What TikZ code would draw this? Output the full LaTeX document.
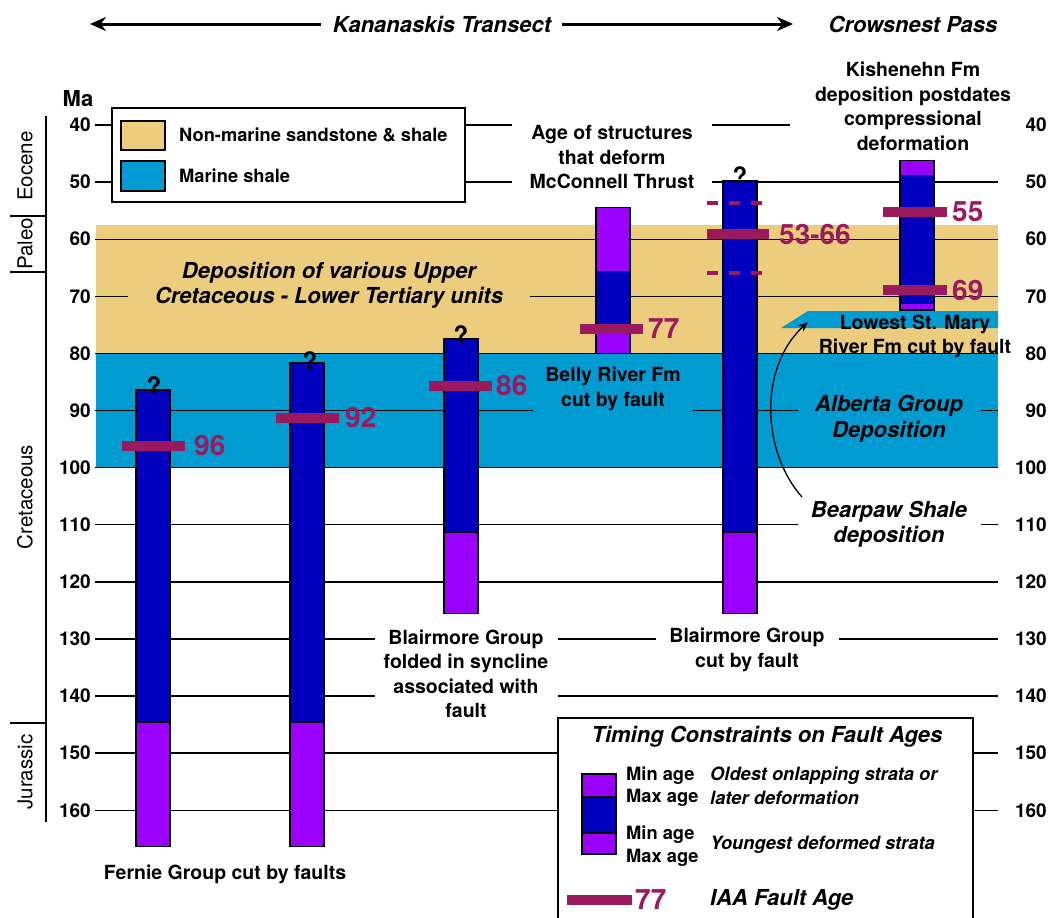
\documentclass[tikz,border=0pt]{standalone}
\usepackage{fontspec}
\setmainfont{TeX Gyre Heros}
\usetikzlibrary{arrows.meta}

\definecolor{sand}{RGB}{236,205,125}
\definecolor{marine}{RGB}{0,155,208}
\definecolor{barblue}{RGB}{0,0,190}
\definecolor{barpurple}{RGB}{155,0,255}
\definecolor{faultred}{RGB}{155,25,95}

% age (Ma) -> y position
\newcommand{\ma}[1]{125+5.71*(#1-40)}

\tikzset{
  ageline/.style={line width=1.4pt},
  tick/.style={font=\fontsize{19}{19}\selectfont\bfseries, inner sep=0pt},
  period/.style={font=\fontsize{20.5}{20.5}\selectfont, rotate=90, inner sep=0pt},
  note/.style={font=\fontsize{19.5}{24.5}\selectfont\bfseries, align=center, inner xsep=0pt, inner ysep=3pt},
  inote/.style={font=\fontsize{22}{25.5}\selectfont\bfseries\itshape, align=center, inner xsep=0pt, inner ysep=3pt},
  key/.style={font=\fontsize{18.3}{22}\selectfont\bfseries, anchor=west, inner sep=0pt},
  ikey/.style={font=\fontsize{18.3}{22}\selectfont\bfseries\itshape, anchor=west, inner sep=0pt},
  agelbl/.style={font=\fontsize{28}{28}\selectfont\bfseries, text=faultred, anchor=west, inner sep=0pt},
  quest/.style={font=\fontsize{24}{24}\selectfont\bfseries, inner sep=0pt},
  fault/.style={faultred, line width=10pt},
  blueseg/.style={fill=barblue, draw=black, line width=1.3pt},
  purpseg/.style={fill=barpurple, draw=black, line width=1.3pt},
  box/.style={draw=black, line width=1.3pt},
}

\begin{document}
\begin{tikzpicture}[x=1pt,y=-1pt]
\useasboundingbox (0,0) rectangle (1050,918);

% depositional bands
\fill[sand] (96,{\ma{57.6}}) rectangle (998,{\ma{80}});
\fill[marine] (96,{\ma{80}}) rectangle (998,{\ma{100}});
\fill[marine] (781,328) -- (808,311) -- (998,311) -- (998,328) -- cycle;

% time lines
\foreach \a in {40,50,...,160}
  \draw[ageline] (95,{\ma{\a}}) -- (998,{\ma{\a}});

% periods
\draw[ageline] (46,116) -- (46,822);
\draw[ageline] (10,216) -- (46,216);
\draw[ageline] (10,272) -- (46,272);
\draw[ageline] (10,723) -- (46,723);
\node[period] (eocene) at (25,166) {Eocene};
\node[period] (paleo) at (25,244) {Paleo};
\node[period] (cret) at (25,497) {Cretaceous};
\node[period] (jura) at (25,772) {Jurassic};
\node[font=\fontsize{22}{22}\selectfont\bfseries] (ma) at (78,99) {Ma};

% header
\node[inote] (kan) at (442,24) {Kananaskis Transect};
\node[inote] (crow) at (913,24) {Crowsnest Pass};
\coordinate (kanL) at (90,24);
\coordinate (kanR) at (793,24);
\draw[line width=3pt, -{Stealth[length=16pt,width=14pt]}] ([xshift=-12pt]kan.west) -- (kanL);
\draw[line width=3pt, -{Stealth[length=16pt,width=14pt]}] ([xshift=11pt]kan.east) -- (kanR);

% legend of units
\draw[box, fill=white] (112,108) rectangle (465,202);
\draw[box, fill=sand] (121,121) rectangle (165,150);
\draw[box, fill=marine] (121,161) rectangle (165,191);
\node[key] (nonmar) at (179,135) {Non-marine sandstone \& shale};
\node[key] (mar) at (179,176) {Marine shale};

% annotations
\node[inote, fill=sand, minimum width=402pt] (depo) at (329,285.5) {Deposition of various Upper\\Cretaceous - Lower Tertiary units};
\node[note, fill=white, minimum width=200pt] (struct) at (612,157.5) {Age of structures\\that deform\\McConnell Thrust};
\node[note, fill=white, minimum width=246pt] (kish) at (913,106.5) {Kishenehn Fm\\deposition postdates\\compressional\\deformation};
\node[note, fill=marine, minimum width=160pt, inner ysep=6pt] (belly) at (613,389) {Belly River Fm\\cut by fault};
\node[inote, fill=marine, minimum width=183pt] (alberta) at (889,418.5) {Alberta Group\\Deposition};
\node[inote, fill=white, minimum width=183pt] (bearpaw) at (889,524) {Bearpaw Shale\\deposition};
\node[note] (stmary) at (915,336.5) {Lowest St. Mary\\River Fm cut by fault};
\node[note, fill=white, minimum width=183pt] (blfold) at (466,674) {Blairmore Group\\folded in syncline\\associated with\\fault};
\node[note, fill=white, minimum width=183pt] (blcut) at (747,650) {Blairmore Group\\cut by fault};
\node[note] (fernie) at (225,874) {Fernie Group cut by faults};
\coordinate (smtip) at (808,322);
\draw[line width=1.3pt, -{Stealth[length=10pt,width=8pt]}] (802,497) .. controls (762,452) and (758,368) .. (smtip);

% Fernie columns
\draw[blueseg] (136,{\ma{86.4}}) rectangle (170,{\ma{144.7}});
\draw[purpseg] (136,{\ma{144.7}}) rectangle (170,{\ma{166.4}});
\draw[fault] (122,{\ma{96.2}}) -- (185,{\ma{96.2}});
\node[agelbl] (f96) at (194,{\ma{96.2}}) {96};
\node[quest] (q1) at (154,386) {?};

\draw[blueseg] (290,{\ma{81.7}}) rectangle (324,{\ma{144.7}});
\draw[purpseg] (290,{\ma{144.7}}) rectangle (324,{\ma{166.4}});
\draw[fault] (276,{\ma{91.3}}) -- (339,{\ma{91.3}});
\node[agelbl] (f92) at (345,{\ma{91.3}}) {92};
\node[quest] (q2) at (310,361) {?};

% Blairmore syncline
\draw[blueseg] (444,{\ma{77.5}}) rectangle (478,{\ma{111.4}});
\draw[purpseg] (444,{\ma{111.4}}) rectangle (478,{\ma{125.6}});
\draw[fault] (429,{\ma{85.7}}) -- (492,{\ma{85.7}});
\node[agelbl] (f86) at (496,{\ma{85.7}}) {86};
\node[quest] (q3) at (461,335) {?};

% Belly River
\draw[purpseg] (596,{\ma{54.4}}) rectangle (630,{\ma{65.6}});
\draw[blueseg] (596,{\ma{65.6}}) rectangle (630,{\ma{76.5}});
\draw[purpseg] (596,{\ma{76.5}}) rectangle (630,{\ma{80}});
\draw[fault] (580,{\ma{75.7}}) -- (643,{\ma{75.7}});
\node[agelbl] (f77) at (648,{\ma{75.7}}) {77};

% Blairmore cut by fault
\draw[blueseg] (723,{\ma{49.8}}) rectangle (757,{\ma{111.4}});
\draw[purpseg] (723,{\ma{111.4}}) rectangle (757,{\ma{125.6}});
\draw[faultred, line width=4pt, dash pattern=on 11pt off 11pt] (707,{\ma{53.7}}) -- (762,{\ma{53.7}});
\draw[faultred, line width=4pt, dash pattern=on 11pt off 11pt] (707,{\ma{65.9}}) -- (762,{\ma{65.9}});
\draw[fault] (707,{\ma{59.1}}) -- (769,{\ma{59.1}});
\node[agelbl] (f5366) at (779,{\ma{59.1}}) {53-66};
\node[quest] (q5) at (740,176) {?};

% Crowsnest
\draw[purpseg] (900,{\ma{46.2}}) rectangle (934,{\ma{48.8}});
\draw[blueseg] (900,{\ma{48.8}}) rectangle (934,{\ma{71.2}});
\draw[purpseg] (900,{\ma{71.2}}) rectangle (934,{\ma{72.4}});
\draw[fault] (883,{\ma{55.2}}) -- (947,{\ma{55.2}});
\node[agelbl] (f55) at (952,{\ma{55.2}}) {55};
\draw[fault] (883,{\ma{68.9}}) -- (947,{\ma{68.9}});
\node[agelbl] (f69) at (952,{\ma{68.9}}) {69};

% legend of constraints
\fill[white] (558,718) rectangle (973,918);
\draw[box] (558,918) -- (558,718) -- (973,718) -- (973,918);
\node[inote] (timing) at (767,737) {Timing Constraints on Fault Ages};
\draw[purpseg] (582,774) rectangle (616,797);
\draw[blueseg] (582,797) rectangle (616,833);
\draw[purpseg] (582,833) rectangle (616,854);
\node[key] (min1) at (626,776) {Min age};
\node[key] (max1) at (626,798) {Max age};
\node[key] (min2) at (626,835) {Min age};
\node[key] (max2) at (626,858) {Max age};
\node[ikey] (oldest) at (710,776) {Oldest onlapping strata or};
\node[ikey] (later) at (710,798) {later deformation};
\node[ikey] (young) at (710,845) {Youngest deformed strata};
\draw[fault] (567,900) -- (632,900);
\node[agelbl] (k77) at (635,900) {77};
\node[inote, anchor=west, inner sep=0pt] (iaa) at (710,900) {IAA Fault Age};

% age labels
\foreach \a in {40,50,...,160}{
  \node[tick, anchor=east] (l\a) at (91,{\ma{\a}}) {\a};
  \node[tick, anchor=east] (r\a) at (1047,{\ma{\a}}) {\a};
}
\end{tikzpicture}
\end{document}
